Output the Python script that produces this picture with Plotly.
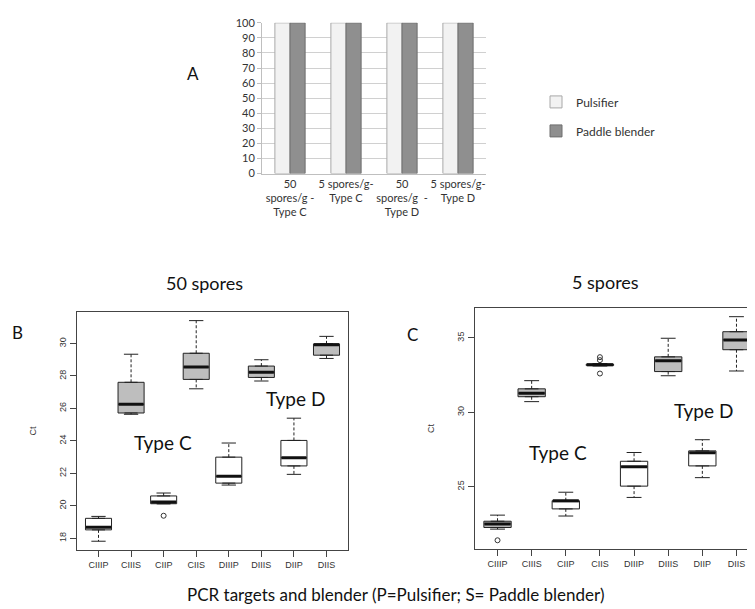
import plotly.graph_objects as go

# ---- Panel A: detection (%) by blender ----
A_CATS = ["50<br>spores/g -<br>Type C", "5 spores/g-<br>Type C",
          "50<br>spores/g  -<br>Type D", "5 spores/g-<br>Type D"]
A_PULSIFIER = [100, 100, 100, 100]
A_PADDLE = [100, 100, 100, 100]

# ---- Panels B / C: Ct box plots ----
TARGETS = ["CIIIP", "CIIIS", "CIIP", "CIIS", "DIIIP", "DIIIS", "DIIP", "DIIS"]

B_LOW = [17.82, 25.64, 20.13, 27.21, 21.28, 27.69, 21.94, 29.08]
B_Q1 = [18.52, 25.72, 20.13, 27.79, 21.40, 27.91, 22.46, 29.28]
B_MED = [18.68, 26.26, 20.23, 28.55, 21.82, 28.23, 22.96, 29.92]
B_Q3 = [19.23, 27.61, 20.61, 29.40, 23.00, 28.61, 24.03, 29.98]
B_HIGH = [19.35, 29.34, 20.79, 31.41, 23.87, 29.00, 25.40, 30.44]
B_FILL = ["white", "grey", "white", "grey", "white", "grey", "white", "grey"]
B_OUT_X = [3]
B_OUT_Y = [19.39]

C_LOW = [22.15, 30.72, 23.03, 33.12, 24.28, 32.46, 25.61, 32.78]
C_Q1 = [22.26, 31.05, 23.51, 33.14, 25.04, 32.74, 26.40, 34.21]
C_MED = [22.50, 31.29, 24.06, 33.20, 26.34, 33.46, 27.28, 34.87]
C_Q3 = [22.68, 31.58, 24.06, 33.25, 26.71, 33.73, 27.41, 35.42]
C_HIGH = [23.09, 32.13, 24.63, 33.28, 27.30, 34.98, 28.16, 36.43]
C_FILL = ["grey", "grey", "white", "grey", "white", "grey", "white", "grey"]
C_OUT_X = [1, 4, 4, 4]
C_OUT_Y = [21.40, 33.71, 33.51, 32.61]

W, H = 755, 609
FONT = "Lato, Open Sans, sans-serif"
RFONT = "Liberation Sans, Arial, sans-serif"
GREY = "#bebebe"


def fx(px):
    return px / W


def fy(py):
    return 1 - py / H


fig = go.Figure()

# Panel A bars
fig.add_trace(go.Bar(
    x=A_CATS, y=A_PULSIFIER, name="Pulsifier",
    marker=dict(color="#f2f2f2", line=dict(color="#a8a8a8", width=1)),
    xaxis="x", yaxis="y", legendgroup="p",
))
fig.add_trace(go.Bar(
    x=A_CATS, y=A_PADDLE, name="Paddle blender",
    marker=dict(color="#8f8f8f", line=dict(color="#6e6e6e", width=1)),
    xaxis="x", yaxis="y", legendgroup="s",
))


def add_boxes(low, q1, med, q3, high, fills, out_x, out_y, xa, ya, box_px):
    pos = list(range(1, len(TARGETS) + 1))
    for i, p in enumerate(pos):
        fig.add_trace(go.Box(
            x=[p], q1=[q1[i]], median=[med[i]], q3=[q3[i]],
            lowerfence=[q1[i]], upperfence=[q3[i]],
            width=0.8, fillcolor=GREY if fills[i] == "grey" else "white",
            line=dict(color="#222222", width=1),
            xaxis=xa, yaxis=ya, showlegend=False, hoverinfo="skip",
        ))
    # dashed whiskers
    wx, wy = [], []
    for i, p in enumerate(pos):
        wx += [p, p, None, p, p, None]
        wy += [q3[i], high[i], None, q1[i], low[i], None]
    fig.add_trace(go.Scatter(
        x=wx, y=wy, mode="lines", line=dict(color="#222222", width=1, dash="3px,2px"),
        xaxis=xa, yaxis=ya, showlegend=False, hoverinfo="skip",
    ))
    # whisker caps (line-ew draws about 1.4 x size)
    fig.add_trace(go.Scatter(
        x=pos + pos, y=low + high, mode="markers",
        marker=dict(symbol="line-ew", size=box_px * 0.55 / 1.4, line=dict(color="#222222", width=1)),
        xaxis=xa, yaxis=ya, showlegend=False, hoverinfo="skip",
    ))
    # thick medians
    fig.add_trace(go.Scatter(
        x=pos, y=med, mode="markers",
        marker=dict(symbol="line-ew", size=(box_px - 1) / 1.4, line=dict(color="#111111", width=3)),
        xaxis=xa, yaxis=ya, showlegend=False, hoverinfo="skip",
    ))
    # outliers
    fig.add_trace(go.Scatter(
        x=out_x, y=out_y, mode="markers",
        marker=dict(symbol="circle-open", size=5, color="#333333", line=dict(width=1)),
        xaxis=xa, yaxis=ya, showlegend=False, hoverinfo="skip",
    ))


add_boxes(B_LOW, B_Q1, B_MED, B_Q3, B_HIGH, B_FILL, B_OUT_X, B_OUT_Y, "x2", "y2", 26)
add_boxes(C_LOW, C_Q1, C_MED, C_Q3, C_HIGH, C_FILL, C_OUT_X, C_OUT_Y, "x3", "y3", 27)

r_axis = dict(
    showline=True, mirror=True, linecolor="#444444", linewidth=1,
    ticks="outside", ticklen=6, tickcolor="#444444",
    showgrid=False, zeroline=False,
    tickfont=dict(family=RFONT, size=9, color="#333333"),
)

fig.update_layout(
    width=W, height=H,
    margin=dict(l=0, r=0, t=0, b=0),
    paper_bgcolor="white", plot_bgcolor="white",
    font=dict(family=FONT, size=11, color="#222222"),
    barmode="group", bargap=0.46, bargroupgap=0.0,
    boxmode="overlay",
    legend=dict(
        x=fx(528), y=fy(74), xanchor="left", yanchor="top",
        font=dict(family=FONT, size=12, color="#333333"),
        tracegroupgap=10, itemwidth=30, bgcolor="rgba(0,0,0,0)",
    ),
    xaxis=dict(
        domain=[fx(254), fx(478)], showline=True, linecolor="#bfbfbf",
        tickfont=dict(family=FONT, size=11, color="#333333"), ticks="",
    ),
    yaxis=dict(
        domain=[fy(162), fy(8)], range=[0, 100], dtick=10,
        showline=True, linecolor="#bfbfbf", gridcolor="#d0d0d0",
        ticks="outside", ticklen=4, tickcolor="#bfbfbf",
        tickfont=dict(family=FONT, size=11, color="#333333"), zeroline=False,
    ),
    xaxis2=dict(
        domain=[fx(69), fx(340)], range=[0.34, 8.66], anchor="y2",
        tickvals=list(range(1, 9)), ticktext=TARGETS, **r_axis,
    ),
    yaxis2=dict(
        domain=[fy(547), fy(303)], range=[17.26, 31.97], anchor="x2",
        tickvals=[18, 20, 22, 24, 26, 28, 30], tickangle=-90,
        title=dict(text="Ct", font=dict(family=RFONT, size=9, color="#333333"), standoff=20),
        **r_axis,
    ),
    xaxis3=dict(
        domain=[fx(467), fx(751)], range=[0.34, 8.66], anchor="y3",
        tickvals=list(range(1, 9)), ticktext=TARGETS, **r_axis,
    ),
    yaxis3=dict(
        domain=[fy(546), fy(299)], range=[20.79, 37.04], anchor="x3",
        tickvals=[25, 30, 35], tickangle=-90,
        title=dict(text="Ct", font=dict(family=RFONT, size=9, color="#333333"), standoff=20),
        **r_axis,
    ),
)

# text labels
notes = [
    ("A", 185, 60, 17), ("B", 9, 324, 17), ("C", 404, 326, 17),
    ("50 spores", 197, 274, 18), ("5 spores", 597, 273, 18),
    ("Type C", 155, 437, 19), ("Type D", 287, 392, 19),
    ("Type C", 550, 447, 19), ("Type D", 695, 404, 19),
    ("PCR targets and blender (P=Pulsifier; S= Paddle blender)", 387, 592, 17),
]
for txt, x, y, size in notes:
    fig.add_annotation(
        text=txt, x=fx(x), y=fy(y), xref="paper", yref="paper",
        xanchor="center", yanchor="middle", showarrow=False,
        font=dict(family=FONT, size=size, color="#111111"),
    )

fig.write_html("out.html")
